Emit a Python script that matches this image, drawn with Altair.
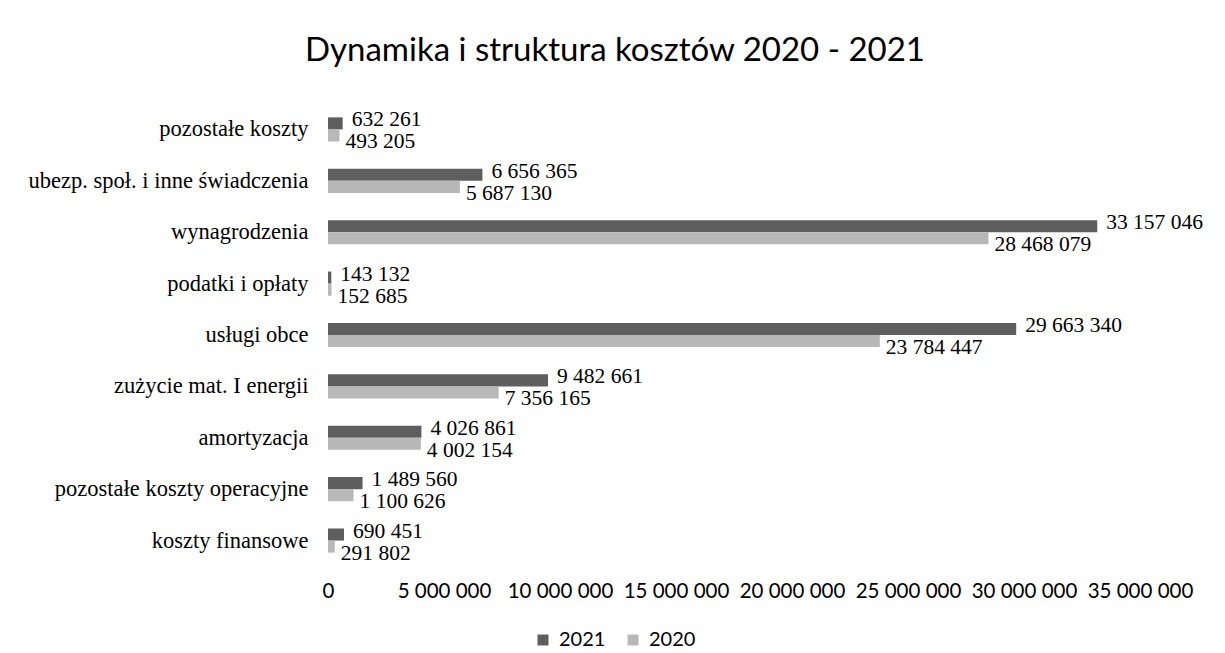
import altair as alt
import pandas as pd

categories = [
    "pozostałe koszty",
    "ubezp. społ. i inne świadczenia",
    "wynagrodzenia",
    "podatki i opłaty",
    "usługi obce",
    "zużycie mat. I energii",
    "amortyzacja",
    "pozostałe koszty operacyjne",
    "koszty finansowe",
]
values_2021 = [632261, 6656365, 33157046, 143132, 29663340, 9482661, 4026861, 1489560, 690451]
values_2020 = [493205, 5687130, 28468079, 152685, 23784447, 7356165, 4002154, 1100626, 291802]
years = ["2021", "2020"]
colors = ["#5e5e5e", "#b8b8b8"]


def fmt(v):
    return f"{v:,}".replace(",", " ")


rows = []
for c, a, b in zip(categories, values_2021, values_2020):
    rows.append({"kategoria": c, "rok": "2021", "wartosc": a, "etykieta": fmt(a)})
    rows.append({"kategoria": c, "rok": "2020", "wartosc": b, "etykieta": fmt(b)})
df = pd.DataFrame(rows)

y_enc = alt.Y(
    "kategoria:N",
    sort=categories,
    title=None,
    scale=alt.Scale(paddingInner=0.53, paddingOuter=0.26),
    axis=alt.Axis(
        domain=False, ticks=False, labelPadding=20,
        labelFont="Liberation Serif", labelFontSize=22.5, labelColor="#000000",
        labelLimit=400,
    ),
)
yoff = alt.YOffset("rok:N", sort=years)
x_enc = alt.X(
    "wartosc:Q",
    title=None,
    scale=alt.Scale(domain=[0, 35000000], nice=False),
    axis=alt.Axis(
        values=[0, 5000000, 10000000, 15000000, 20000000, 25000000, 30000000, 35000000],
        format=",d", domain=False, ticks=False, grid=False,
        labelFlush=False, labelOverlap=False, labelPadding=15,
        labelFont="Lato", labelFontSize=20.5, labelColor="#000000",
    ),
)

base = alt.Chart(df)

bars = base.mark_bar().encode(
    y=y_enc,
    yOffset=yoff,
    x=x_enc,
    color=alt.Color(
        "rok:N",
        sort=years,
        scale=alt.Scale(domain=years, range=colors),
        legend=alt.Legend(
            title=None, orient="none", direction="horizontal",
            legendX=205, legendY=526,
            symbolType="square", symbolSize=120, symbolStrokeWidth=0,
            labelFont="Lato", labelFontSize=20, labelColor="#000000",
            columnPadding=17, labelOffset=6,
        ),
    ),
)

text21 = base.transform_filter(alt.datum.rok == "2021").mark_text(
    align="left", baseline="middle", dx=9, dy=-3,
    font="Liberation Serif", fontSize=21.5, color="#000000",
).encode(y=y_enc, yOffset=yoff, x=x_enc, text="etykieta:N")

text20 = base.transform_filter(alt.datum.rok == "2020").mark_text(
    align="left", baseline="middle", dx=6, dy=7,
    font="Liberation Serif", fontSize=21.5, color="#000000",
).encode(y=y_enc, yOffset=yoff, x=x_enc, text="etykieta:N")

chart = (
    alt.layer(bars, text21, text20)
    .properties(
        width=812,
        height=462,
        autosize=alt.AutoSizeParams(type="none"),
        padding={"left": 320, "top": 96, "right": 77, "bottom": 84},
        title=alt.TitleParams(
            "Dynamika i struktura kosztów 2020 - 2021",
            font="Lato", fontSize=33, fontWeight="normal", color="#000000",
            anchor="middle", frame="group", dx=-119, offset=36,
        ),
    )
    .configure(locale={"number": {"decimal": ",", "thousands": " ", "grouping": [3], "currency": ["", " zł"]}})
    .configure_view(strokeWidth=0, stroke=None)
)

chart.save("out.html", embed_options={"renderer": "svg", "actions": False})
